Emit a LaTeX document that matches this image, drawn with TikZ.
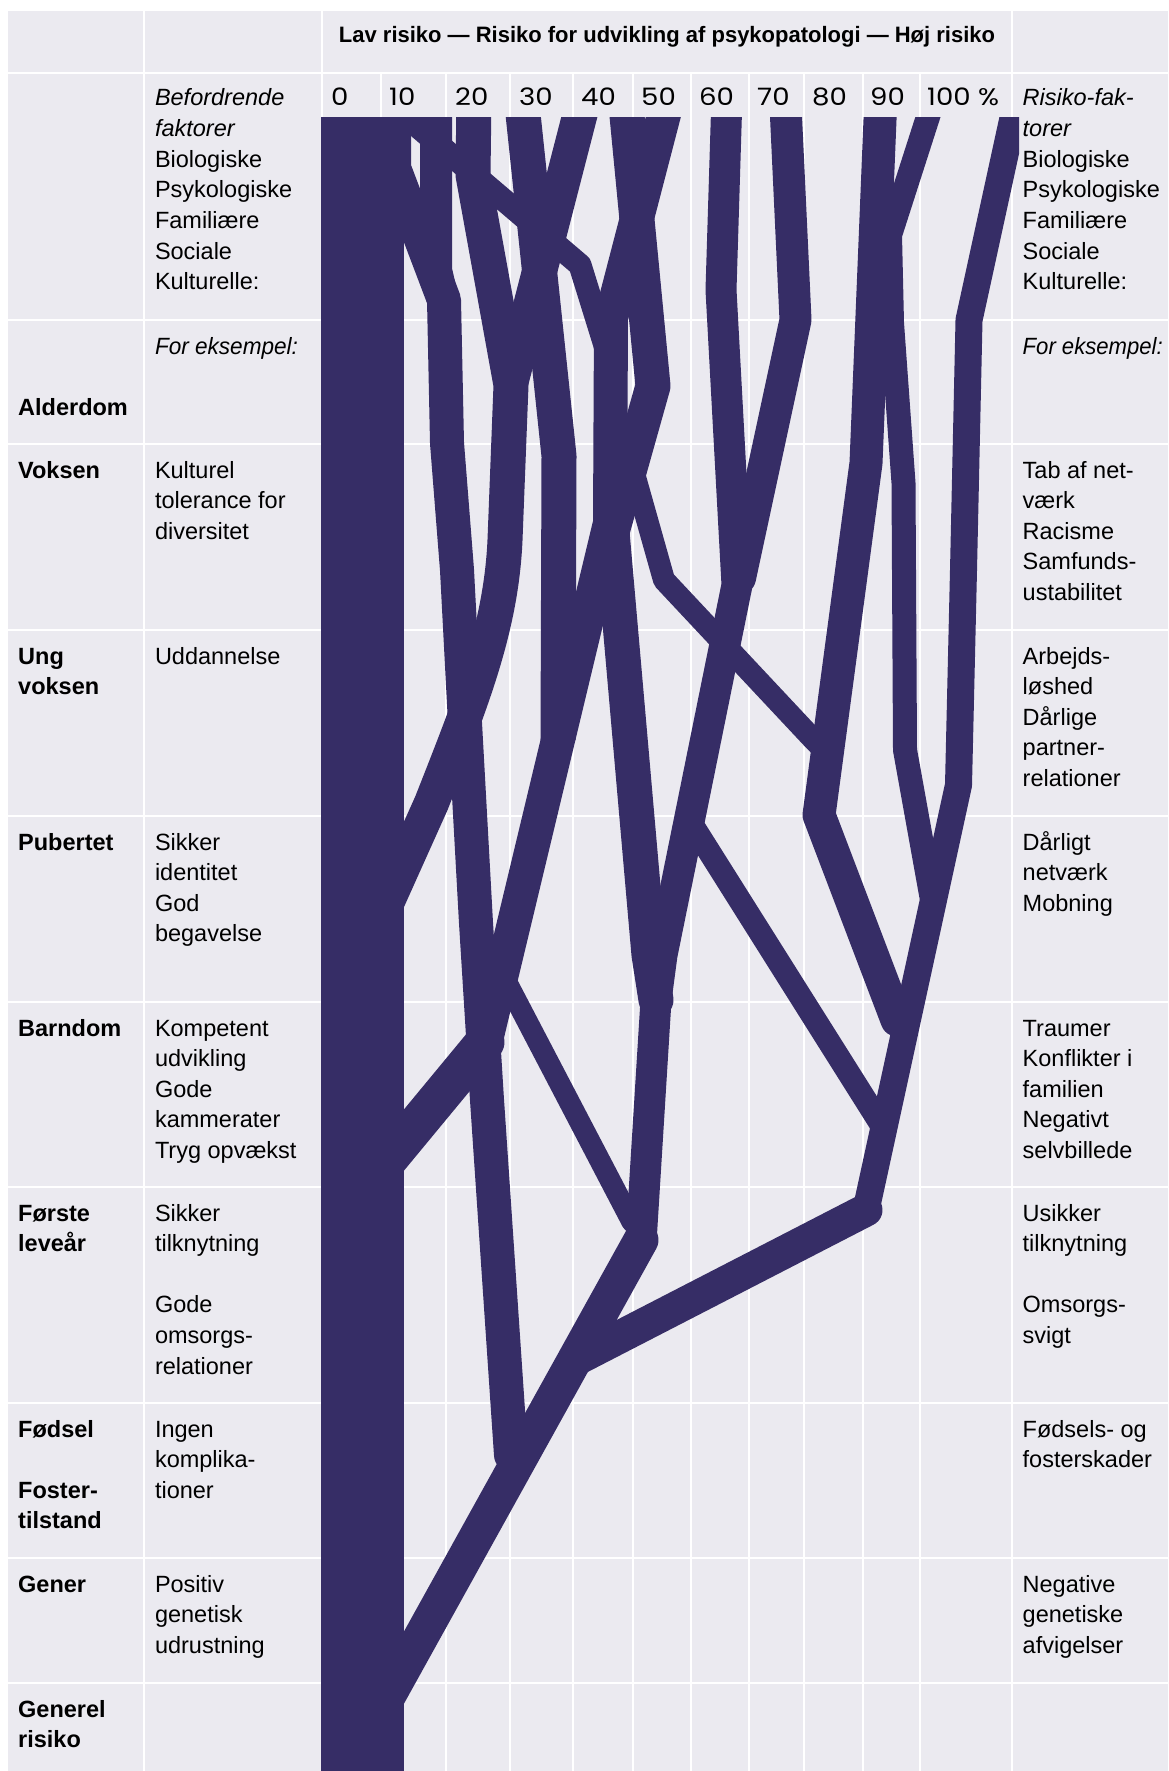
\documentclass[tikz,border=0pt]{standalone}
\usepackage{fontspec}
\usepackage{graphicx}
\setmainfont{Liberation Sans}
\newfontfamily\numfont{Poppins}[FakeStretch=1.15]
\definecolor{bgc}{RGB}{235,234,240}
\definecolor{barc}{RGB}{54,45,102}
\newcommand\coltext[5]{%
  \foreach \tline [count=\i from 0] in {#5}{%
    \node[#1] (#2-\i) at (#3,{#4+\i*30.6}) {\tline};}}
\begin{document}
\begin{tikzpicture}[x=1pt,y=-1pt,
  bars/.style={draw=barc,line width=#1,line join=round,line cap=round},
  gridl/.style={draw=white,line width=2pt},
  txt/.style={font=\fontsize{23.5}{30.6}\selectfont,text=black,inner sep=0pt,anchor=base west},
  txtb/.style={txt,font=\bfseries\fontsize{23.5}{30.6}\selectfont},
  num/.style={font=\numfont\fontsize{24}{28}\selectfont,text=black,inner sep=0pt,anchor=base west}]
\useasboundingbox (0,0) rectangle (1168,1771);
\fill[white] (0,0) rectangle (1168,1771);
\fill[bgc] (7.5,11) rectangle (1168,1771);
% grid
\foreach \yy in {73,320,444,630,816,1002,1187,1403,1558,1683}
  \draw[gridl] (7.5,\yy) -- (1168,\yy);
\foreach \xx in {144,322,1012}
  \draw[gridl] (\xx,11) -- (\xx,1771);
\foreach \xx in {381,446,510,573,633,691,749,804,863,920}
  \draw[gridl] (\xx,73) -- (\xx,1771);
% bars
\begin{scope}
\clip (320.5,118) rectangle (1019,1771);
\fill[barc] (320.5,100) rectangle (404,1790);
\draw[bars=34] (394,95) -- (394,168) -- (444,300) -- (447,443) -- (457,570) -- (465,723) -- (476,923) -- (487,1100) -- (511,1455);
\draw[bars=32] (436,95) -- (436,270) -- (444,305);
\draw[bars=23] (390,103) -- (580,265) -- (607,352) -- (610,372);
\draw[bars=35] (474,95) -- (473,175) -- (511,385) -- (505,540) .. controls (501,630) and (470,705) .. (431.5,803) -- (370,940);
\draw[bars=35] (585,95) -- (511,382);
\draw[bars=35,line cap=butt] (521,95) -- (559,456) -- (558,740);
\draw[bars=34] (669,95) -- (611,318) -- (610,523) -- (486,1040);
\draw[bars=35] (625,95) -- (653,386) -- (612,532) -- (649,955) -- (656,1000);
\draw[bars=22] (633,470) -- (664,580) -- (812,738) -- (826,752);
\draw[bars=31] (727,95) -- (721,290) -- (737,585) -- (662,955) -- (656,1000) -- (641,1242);
\draw[bars=32] (785,95) -- (795.5,320) -- (740,578);
\draw[bars=33] (881,95) -- (866,463) -- (819,815) -- (897,1020);
\draw[bars=24] (935,95) -- (890,235) -- (892,323) -- (903.5,483) -- (905,750) -- (932,900);
\draw[bars=27] (1018,95) -- (969,320) -- (963.5,570) -- (958.5,785) -- (866,1210);
\draw[bars=33] (866,1210) -- (575,1360);
\draw[bars=23] (688,818) -- (882,1126);
\draw[bars=21] (503,975) -- (632,1222);
\draw[bars=39] (380,1169) -- (485,1042);
\draw[bars=35] (376,1718) -- (641,1240);
\end{scope}
% header
\node[font=\bfseries\fontsize{22.3}{26}\selectfont,inner sep=0pt,anchor=base] (head) at (667,42.7)
  {\resizebox{656pt}{\height}{Lav risiko --- Risiko for udvikling af psykopatologi --- Høj risiko}};
% scale numbers
\node[num] (n0) at (331,106) {0};
\node[num] (n10) at (389,106) {10};
\node[num] (n20) at (455,106) {20};
\node[num] (n30) at (519,106) {30};
\node[num] (n40) at (581,106) {40};
\node[num] (n50) at (641,106) {50};
\node[num] (n60) at (699,106) {60};
\node[num] (n70) at (757,106) {70};
\node[num] (n80) at (812,106) {80};
\node[num] (n90) at (870,106) {90};
\node[num] (n100) at (927,106) {100 \%};
% middle column
\coltext{txt}{mh}{154.8}{106}{{\itshape Befordrende},{\itshape faktorer},Biologiske,Psykologiske,Familiære,Sociale,Kulturelle:}
\node[txt] (me) at (154.8,354) {\resizebox{143pt}{\height}{\itshape For eksempel:}};
\coltext{txt}{m1}{154.8}{478}{Kulturel,tolerance for,diversitet}
\coltext{txt}{m2}{154.8}{664}{Uddannelse}
\coltext{txt}{m3}{154.8}{850}{Sikker,identitet,God,begavelse}
\coltext{txt}{m4}{154.8}{1036}{Kompetent,udvikling,Gode,kammerater,Tryg opvækst}
\coltext{txt}{m5}{154.8}{1221}{Sikker,tilknytning,{},Gode,omsorgs-,relationer}
\coltext{txt}{m6}{154.8}{1437}{Ingen,komplika-,tioner}
\coltext{txt}{m7}{154.8}{1592}{Positiv,genetisk,udrustning}
% right column
\coltext{txt}{rh}{1022.5}{106}{{\itshape Risiko-fak-},{\itshape torer},Biologiske,Psykologiske,Familiære,Sociale,Kulturelle:}
\node[txt] (re) at (1022.5,354) {\resizebox{140pt}{\height}{\itshape For eksempel:}};
\coltext{txt}{r1}{1022.5}{478}{Tab af net-,værk,Racisme,Samfunds-,ustabilitet}
\coltext{txt}{r2}{1022.5}{664}{Arbejds-,løshed,Dårlige,partner-,relationer}
\coltext{txt}{r3}{1022.5}{850}{Dårligt,netværk,Mobning}
\coltext{txt}{r4}{1022.5}{1036}{Traumer,Konflikter i,familien,Negativt,selvbillede}
\coltext{txt}{r5}{1022.5}{1221}{Usikker,tilknytning,{},Omsorgs-,svigt}
\coltext{txt}{r6}{1022.5}{1437}{Fødsels- og,fosterskader}
\coltext{txt}{r7}{1022.5}{1592}{Negative,genetiske,afvigelser}
% left column
\node[txtb] (l0) at (18,415) {Alderdom};
\coltext{txtb}{l1}{18}{478}{Voksen}
\coltext{txtb}{l2}{18}{664}{Ung,voksen}
\coltext{txtb}{l3}{18}{850}{Pubertet}
\coltext{txtb}{l4}{18}{1036}{Barndom}
\coltext{txtb}{l5}{18}{1221}{Første,leveår}
\coltext{txtb}{l6}{18}{1437}{Fødsel,{},Foster-,tilstand}
\coltext{txtb}{l7}{18}{1592}{Gener}
\coltext{txtb}{l8}{18}{1717}{Generel,risiko}
\end{tikzpicture}
\end{document}
